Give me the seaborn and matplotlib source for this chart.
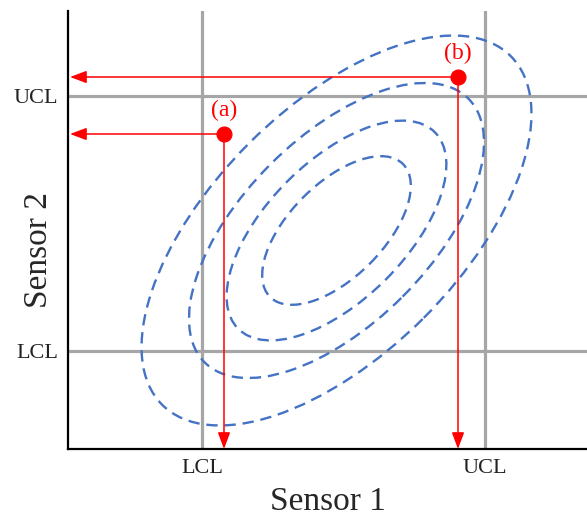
import matplotlib.pyplot as plt
from matplotlib.patches import Ellipse
import seaborn as sns

sns.set_theme(style="white")
plt.rcParams['font.family'] = ['Liberation Serif', 'DejaVu Serif']

# control limits (sensor 1, sensor 2)
lcl = [2.68, 1.96]
ucl = [8.34, 7.06]

# confidence ellipses around the joint mean
ell_center = [5.37, 4.37]
ell_major = [4.93, 3.73, 2.78, 1.88]
ell_minor = [2.47, 1.87, 1.39, 0.94]
ell_angle = 45

# two observations
obs_label = ["(a)", "(b)"]
obs_s1 = [3.12, 7.80]
obs_s2 = [6.30, 7.44]

red = "#FF0000"
blue = "#4472C4"
grey = "#A6A6A6"

fig = plt.figure(figsize=(5.87, 5.19), dpi=100)
ax = fig.add_axes([68 / 587, 70 / 519, 519 / 587, 438 / 519])
ax.set_xlim(0, 10.38)
ax.set_ylim(0, 8.76)

# control limit lines
for v in [lcl[0], ucl[0]]:
    ax.axvline(v, color=grey, lw=2.3, zorder=1)
for v in [lcl[1], ucl[1]]:
    ax.axhline(v, color=grey, lw=2.3, zorder=1)

for a, b in zip(ell_major, ell_minor):
    ax.add_patch(Ellipse(ell_center, 2 * a, 2 * b, angle=ell_angle, fill=False,
                         ec=blue, lw=1.7, ls=(0, (4.8, 2.9)), zorder=2))

# projections of each observation onto the axes
arrow = dict(arrowstyle="-|>,head_length=0.4,head_width=0.15", color=red,
             lw=1.1, mutation_scale=25, shrinkA=0, shrinkB=0)
for x, y in zip(obs_s1, obs_s2):
    ax.annotate("", xy=(0.04, y), xytext=(x, y), arrowprops=arrow, zorder=3)
    ax.annotate("", xy=(x, 0.0), xytext=(x, y), arrowprops=arrow, zorder=3)

sns.scatterplot(x=obs_s1, y=obs_s2, color=red, edgecolor=red, s=115,
                ax=ax, zorder=5, legend=False)
for lab, x, y in zip(obs_label, obs_s1, obs_s2):
    ax.text(x, y + 0.25, lab, color=red, fontsize=17, ha="center", va="bottom")

ax.set_xticks([lcl[0], ucl[0]], ["LCL", "UCL"])
ax.set_yticks([lcl[1], ucl[1]], ["LCL", "UCL"])
ax.tick_params(length=0, labelsize=16, pad=7, colors="#222222")
ax.set_xlabel("Sensor 1", fontsize=24, labelpad=6)
ax.set_ylabel("Sensor 2", fontsize=24)
ax.yaxis.set_label_coords(-0.027, 0.454)

sns.despine(ax=ax)
for s in ["left", "bottom"]:
    ax.spines[s].set_color("black")
    ax.spines[s].set_linewidth(1.6)

fig.savefig("out.png", dpi=100)
